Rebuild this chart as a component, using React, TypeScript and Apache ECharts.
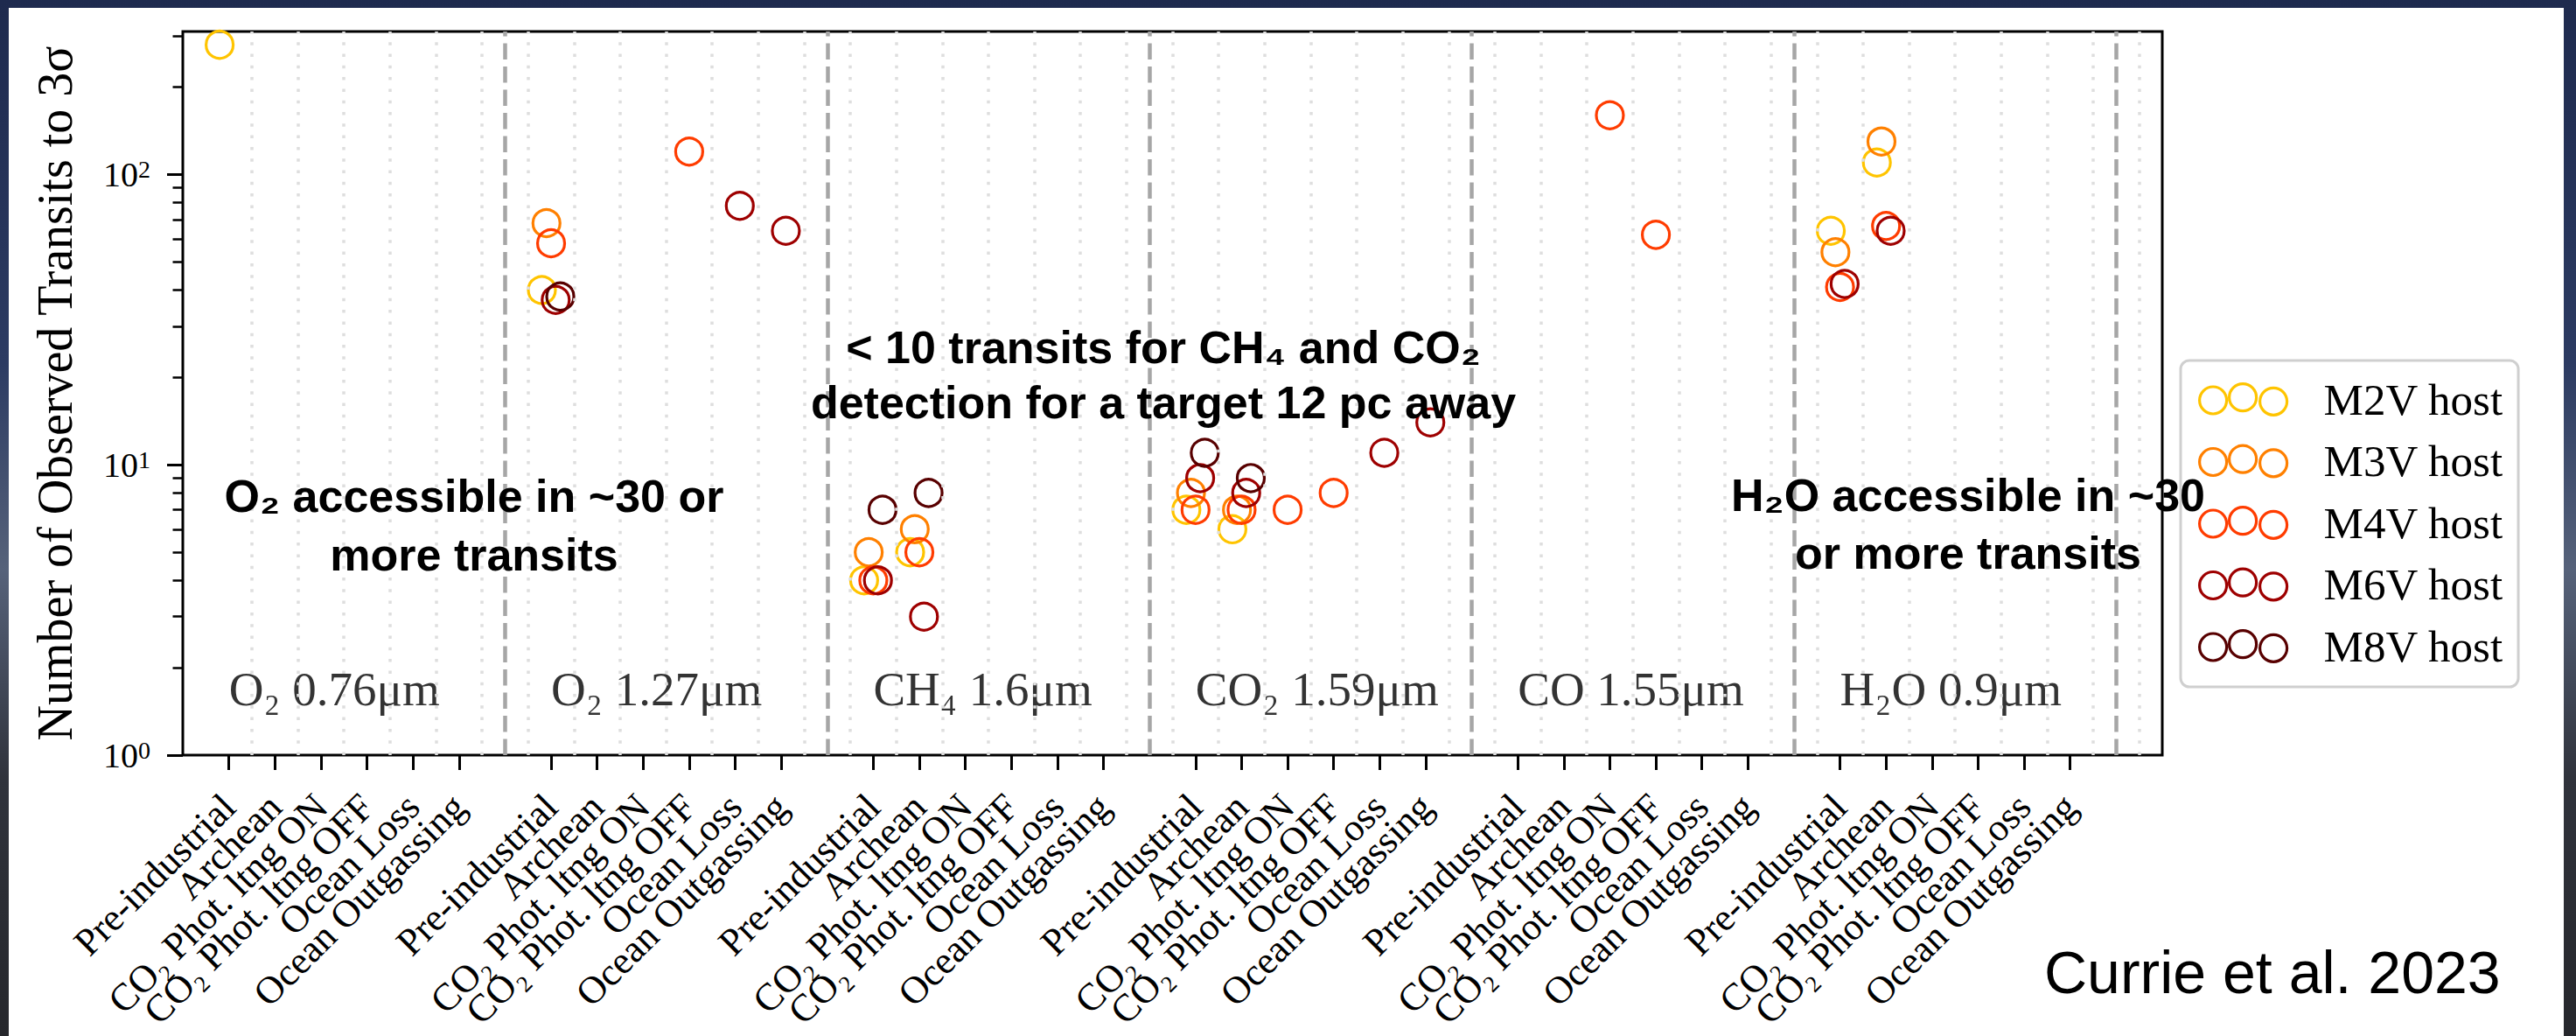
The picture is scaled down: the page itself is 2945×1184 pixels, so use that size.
import React, { useEffect, useRef } from 'react';
import * as echarts from 'echarts';

// ---------- data ----------
const scenarios = ['Pre-industrial', 'Archean', 'CO₂ Phot. ltng ON', 'CO₂ Phot. ltng OFF', 'Ocean Loss', 'Ocean Outgassing'];
const features = ['O₂ 0.76μm', 'O₂ 1.27μm', 'CH₄ 1.6μm', 'CO₂ 1.59μm', 'CO 1.55μm', 'H₂O 0.9μm'];
const hosts = ['M2V host', 'M3V host', 'M4V host', 'M6V host', 'M8V host'];
const hostColors = ['#FFC400', '#FF8000', '#FF3C00', '#9E0000', '#580000'];
const hostOffsets = [-0.2, -0.1, 0, 0.1, 0.2];

const n = null;
// per host: 6 features x 6 scenarios (order of `features` then `scenarios`)
const m2v = [280, n, n, n, n, n, 40, n, n, n, n, n, 4, 5, n, n, n, n, 7, 6, n, n, n, n, n, n, n, n, n, n, 64, 110, n, n, n, n];
const m3v = [n, n, n, n, n, n, 68, n, n, n, n, n, 5, 6, n, n, n, n, 8, 7, n, n, n, n, n, n, n, n, n, n, 54, 130, n, n, n, n];
const m4v = [n, n, n, n, n, n, 58, n, n, 120, n, n, 4, 5, n, n, n, n, 7, 7, 7, 8, n, n, n, n, 160, 62, n, n, 41, 66.5, n, n, n, n];
const m6v = [n, n, n, n, n, n, 37, n, n, n, 78, 64, 4, 3, n, n, n, n, 9, 8, n, n, 11, 14, n, n, n, n, n, n, 42, 64, n, n, n, n];
const m8v = [n, n, n, n, n, n, 38, n, n, n, n, n, 7, 8, n, n, n, n, 11, 9, n, n, n, n, n, n, n, n, n, n, n, n, n, n, n, n];
const hostValues = [m2v, m3v, m4v, m6v, m8v];

const yMin = 1;
const yMax = 311;
const yMajorTicks = [1, 10, 100];
const yMinorTicks = [2, 3, 4, 5, 6, 7, 8, 9, 20, 30, 40, 50, 60, 70, 80, 90, 200, 300];
const featureLabelY = 1.69;

const annotations = [
  { lines: ['O₂ accessible in ~30 or', 'more transits'] },
  { lines: ['< 10 transits for CH₄ and CO₂', 'detection for a target 12 pc away'] },
  { lines: ['H₂O accessible in ~30', 'or more transits'] },
];
const credit = 'Currie et al. 2023';

// ---------- layout helpers ----------
const groupSize = scenarios.length + 1; // one empty slot between groups
const xMax = features.length * groupSize + 1;
const posOf = (g: number, s: number) => g * groupSize + s + 1;
const catLabels: string[] = [];
for (let k = 0; k <= xMax; k++) catLabels.push('');
features.forEach((_, g) => scenarios.forEach((s, k) => { catLabels[posOf(g, k)] = s; }));
const separators = features.map((_, g) => (g + 1) * groupSize);
const dotted: number[] = [];
for (let k = 1; k < xMax; k++) dotted.push(k + 0.5);

const SERIF = "'Liberation Serif', 'DejaVu Serif', serif";
const SANS = "'Liberation Sans', Arial, sans-serif";

const circ = (cx: number, cy: number, r: number) =>
  `M${cx - r},${cy} a${r},${r} 0 1,0 ${2 * r},0 a${r},${r} 0 1,0 ${-2 * r},0 Z`;
const legendIcon = 'path://' + circ(15.5, 18.8, 15.5) + ' ' + circ(49.5, 15.5, 15.5) + ' ' + circ(84.5, 20.1, 15.5);

export default function App() {
  const ref = useRef<HTMLDivElement>(null);
  useEffect(() => {
    const chart = echarts.init(ref.current!, null, { renderer: 'svg' });

    const scatterSeries = hosts.map((h, i) => ({
      name: h,
      type: 'scatter',
      xAxisIndex: 0,
      yAxisIndex: 0,
      symbol: 'circle',
      symbolSize: 31,
      z: 3,
      itemStyle: { color: 'rgba(0,0,0,0)', borderColor: hostColors[i], borderWidth: 3.2, opacity: 1 },
      emphasis: { disabled: true },
      data: hostValues[i]
        .map((v, k) => (v == null ? null : [posOf(Math.floor(k / scenarios.length), k % scenarios.length) + hostOffsets[i], v]))
        .filter((d) => d != null),
    }));

    const labelSeries = {
      name: 'features',
      type: 'scatter',
      xAxisIndex: 0,
      yAxisIndex: 0,
      symbolSize: 0,
      silent: true,
      z: 1,
      data: features.map((f, g) => ({ value: [posOf(g, 0), featureLabelY], name: f })),
      label: {
        show: true,
        position: 'right',
        distance: 0,
        formatter: (p: any) => p.name,
        fontFamily: SERIF,
        fontSize: 55,
        color: '#000',
      },
      markLine: {
        silent: true,
        symbol: ['none', 'none'],
        animation: false,
        label: { show: false },
        data: [
          ...dotted.map((x) => ({ xAxis: x, lineStyle: { color: '#dedede', width: 3.5, type: [3.5, 9.8] } })),
          ...separators.map((x) => ({ xAxis: x, lineStyle: { color: '#a6a6a6', width: 4.5, type: [18.5, 8] } })),
        ],
      },
    };

    const graphics: any[] = [];
    const annX = [542, 1330, 2250];
    const annY = [[567, 634], [397, 460], [566, 632]];
    annotations.forEach((a, i) =>
      a.lines.forEach((t, j) =>
        graphics.push({
          type: 'text',
          x: annX[i],
          y: annY[i][j],
          z: 100,
          style: { text: t, fontFamily: SANS, fontWeight: 'bold', fontSize: 52, fill: '#000', align: 'center', verticalAlign: 'middle' },
        })
      )
    );
    graphics.push({
      type: 'text',
      x: 2337,
      y: 1111,
      z: 100,
      style: { text: credit, fontFamily: SANS, fontSize: 68, fill: '#000', align: 'left', verticalAlign: 'middle' },
    });

    const option: any = {
      animation: false,
      grid: {
        left: 209,
        top: 36,
        width: 2263,
        height: 827,
        show: true,
        borderColor: '#000',
        borderWidth: 3,
        backgroundColor: 'rgba(0,0,0,0)',
        containLabel: false,
        outerBoundsMode: 'none',
      },
      xAxis: [
        {
          type: 'value',
          min: 0,
          max: xMax,
          show: false,
        },
        {
          type: 'category',
          data: catLabels,
          boundaryGap: false,
          position: 'bottom',
          axisLine: { show: false },
          splitLine: { show: false },
          axisTick: {
            show: true,
            interval: (_i: number, v: string) => v !== '',
            length: 17,
            lineStyle: { color: '#000', width: 3 },
          },
          axisLabel: {
            show: true,
            interval: 0,
            rotate: 45,
            margin: 52,
            fontFamily: SERIF,
            fontSize: 44,
            color: '#000',
          },
        },
      ],
      yAxis: [
        {
          type: 'log',
          logBase: 10,
          min: yMin,
          max: yMax,
          axisLine: { show: false },
          splitLine: { show: false },
          minorTick: { show: false },
          axisTick: { show: true, customValues: yMajorTicks, length: 18, lineStyle: { color: '#000', width: 3 } },
          axisLabel: {
            show: true,
            customValues: yMajorTicks,
            showMinLabel: true,
            showMaxLabel: true,
            margin: 37,
            formatter: (v: number) => `{b|10}{s|${Math.round(Math.log10(v))}}`,
            rich: {
              b: { fontFamily: SERIF, fontSize: 40, lineHeight: 40, color: '#000' },
              s: { fontFamily: SERIF, fontSize: 28, lineHeight: 24, verticalAlign: 'top', color: '#000' },
            },
          },
          name: 'Number of Observed Transits to 3σ',
          nameLocation: 'middle',
          nameRotate: 90,
          nameGap: 146,
          nameTextStyle: { fontFamily: SERIF, fontSize: 56, color: '#000', verticalAlign: 'middle', align: 'center' },
        },
        {
          type: 'log',
          logBase: 10,
          min: yMin,
          max: yMax,
          position: 'left',
          offset: 0,
          axisLine: { show: false },
          splitLine: { show: false },
          axisLabel: { show: false },
          axisTick: { show: true, customValues: yMinorTicks, length: 11.5, lineStyle: { color: '#000', width: 2.5 } },
        },
      ],
      legend: {
        left: 2493,
        top: 412,
        orient: 'vertical',
        selectedMode: false,
        data: hosts.map((h, i) => ({
          name: h,
          icon: legendIcon,
          itemStyle: { color: 'rgba(0,0,0,0)', borderColor: hostColors[i], borderWidth: 3.2 },
        })),
        itemWidth: 100,
        itemHeight: 36,
        itemGap: 19.5,
        textStyle: { fontFamily: SERIF, fontSize: 51, color: '#000', padding: [0, 0, 0, 37] },
        backgroundColor: '#fff',
        borderColor: '#cfcfcf',
        borderWidth: 3,
        borderRadius: 10,
        padding: [19, 17, 21, 20],
        z: 5,
      },
      series: [labelSeries, ...scatterSeries],
      graphic: graphics,
    };
    chart.setOption(option);
    return () => chart.dispose();
  }, []);

  return (
    <div
      style={{
        position: 'fixed',
        left: 0,
        top: 0,
        width: 2945,
        height: 1184,
        overflow: 'hidden',
        background: 'linear-gradient(to bottom, #1e2a4e 0%, #2c3b62 35%, #56627a 55%, #30333c 75%, #26272c 100%)',
      }}
    >
      <div style={{ position: 'absolute', left: 10, top: 9, width: 2921, height: 1175, background: '#fff' }} />
      <div ref={ref} style={{ position: 'absolute', left: 0, top: 0, width: 2945, height: 1184 }} />
    </div>
  );
}
